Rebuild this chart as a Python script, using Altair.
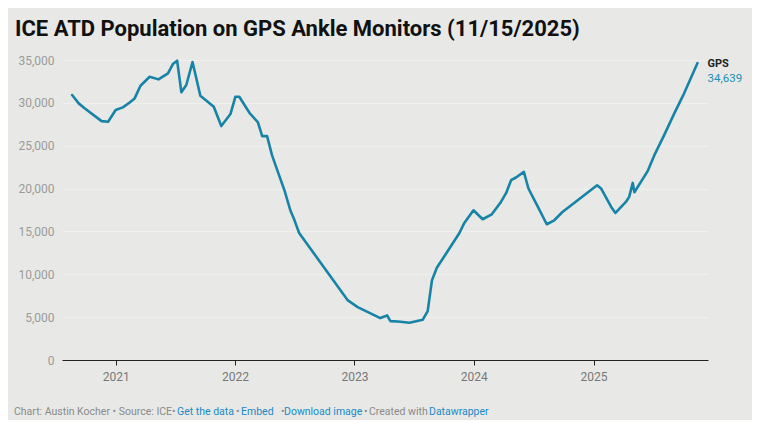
import altair as alt
import pandas as pd

dates = [
    "2020-08-21", "2020-09-10", "2020-09-29", "2020-11-19", "2020-12-09",
    "2021-01-01", "2021-01-23", "2021-02-12", "2021-02-28", "2021-03-18",
    "2021-04-15", "2021-05-12", "2021-06-10", "2021-06-25", "2021-07-08",
    "2021-07-21", "2021-08-05", "2021-08-24", "2021-09-17", "2021-10-28",
    "2021-11-20", "2021-12-18", "2022-01-02", "2022-01-14", "2022-02-14",
    "2022-03-12", "2022-03-25", "2022-04-09", "2022-04-24", "2022-05-12",
    "2022-06-01", "2022-06-19", "2022-07-01", "2022-07-16", "2022-12-12",
    "2023-01-11", "2023-03-21", "2023-04-11", "2023-04-21", "2023-05-14",
    "2023-06-18", "2023-07-29", "2023-08-13", "2023-08-26", "2023-09-10",
    "2023-10-03", "2023-11-18", "2023-12-03", "2023-12-31", "2024-01-28",
    "2024-02-25", "2024-03-24", "2024-04-09", "2024-04-24", "2024-05-09",
    "2024-06-02", "2024-06-16", "2024-07-15", "2024-08-11", "2024-09-03",
    "2024-09-28", "2025-01-12", "2025-01-24", "2025-02-24", "2025-03-09",
    "2025-04-10", "2025-04-20", "2025-05-01", "2025-05-06", "2025-06-16",
    "2025-07-06", "2025-08-05", "2025-09-05", "2025-10-05", "2025-11-15",
]
gps = [
    30910, 29940, 29350, 27870, 27790,
    29160, 29470, 30010, 30520, 32000,
    33050, 32740, 33440, 34530, 34920,
    31230, 32080, 34770, 30830, 29540,
    27290, 28690, 30710, 30710, 28840,
    27730, 26120, 26120, 23900, 21950,
    19810, 17470, 16380, 14820, 6950,
    6170, 4890, 5200, 4530, 4500,
    4350, 4700, 5700, 9290, 10770,
    12100, 14820, 15990, 17470, 16420,
    17000, 18440, 19490, 20980, 21290,
    21950, 20010, 17860, 15840, 16300,
    17270, 20390, 20010, 17860, 17160,
    18440, 19030, 20660, 19570, 22070,
    23900, 26240, 28770, 31110, 34639,
]
y_ticks = [0, 5000, 10000, 15000, 20000, 25000, 30000, 35000]
x_domain = ["2020-07-21", "2025-12-17"]

title_text = "ICE ATD Population on GPS Ankle Monitors (11/15/2025)"
series_name = "GPS"
GREY, LINK = "#8a8a8a", "#1a8ac7"
footer_parts = [
    ("Chart: Austin Kocher • Source: ICE", GREY),
    ("•", GREY),
    ("Get the data", LINK),
    ("•", GREY),
    ("Embed", LINK),
    ("•", GREY),
    ("Download image", LINK),
    ("•", GREY),
    ("Created with", GREY),
    ("Datawrapper", LINK),
]
footer_x = [-48, 110, 115, 174, 179, 219, 222, 302, 307, 367]

df = pd.DataFrame({"date": dates, "value": gps})
last = df.iloc[[-1]].copy()
last["label"] = series_name
last["vlabel"] = f"{gps[-1]:,}"

W, H = 646, 300
BG = "#e8e9e6"
LINE = "#1783a6"

x_enc = alt.X(
    "date:T",
    scale=alt.Scale(domain=x_domain),
    axis=alt.Axis(
        format="%Y", tickCount={"interval": "year", "step": 1}, title=None,
        grid=False, domainColor="#222222", tickColor="#222222", tickSize=5,
        labelColor="#777777", labelFontSize=12, labelPadding=6,
        labelFont="Roboto",
    ),
)
y_enc = alt.Y(
    "value:Q",
    scale=alt.Scale(domain=[0, 35000]),
    axis=alt.Axis(
        values=y_ticks, format=",.0f", title=None, domain=False, ticks=False,
        gridColor="#f0f0ee", gridWidth=1, labelColor="#9a9a9a",
        labelFontSize=12, labelPadding=8, labelFont="Roboto",
    ),
)

line = alt.Chart(df).mark_line(color=LINE, strokeWidth=2.6,
                               strokeJoin="round", strokeCap="round").encode(
    x=x_enc, y=y_enc)

lab1 = alt.Chart(last).mark_text(
    align="left", baseline="alphabetic", dx=10, dy=4, font="Roboto",
    fontWeight="bold", fontSize=11, color="#222222",
).encode(x="date:T", y="value:Q", text="label:N")
lab2 = alt.Chart(last).mark_text(
    align="left", baseline="alphabetic", dx=10, dy=19, font="Roboto",
    fontSize=11.5, color="#1a8fb8",
).encode(x="date:T", y="value:Q", text="vlabel:N")

title = alt.Chart(pd.DataFrame({"t": [title_text]})).mark_text(
    align="left", baseline="alphabetic", font="Roboto", fontWeight="bold",
    fontSize=22, color="#111111",
).encode(x=alt.value(-47), y=alt.value(-24), text="t:N")

footer_layers = []
for (txt, col), fx in zip(footer_parts, footer_x):
    footer_layers.append(
        alt.Chart(pd.DataFrame({"t": [txt]})).mark_text(
            align="left", baseline="middle", font="Roboto", fontSize=10.5,
            color=col,
        ).encode(x=alt.value(fx), y=alt.value(352), text="t:N")
    )

chart = alt.layer(line, lab1, lab2, title, *footer_layers).properties(
    width=W, height=H, background=BG,
    autosize=alt.AutoSizeParams(type="none"),
    padding={"left": 54, "top": 52, "right": 44, "bottom": 60},
).configure_view(stroke=None)

chart.save("out.html", embed_options={"renderer": "svg", "actions": False})
